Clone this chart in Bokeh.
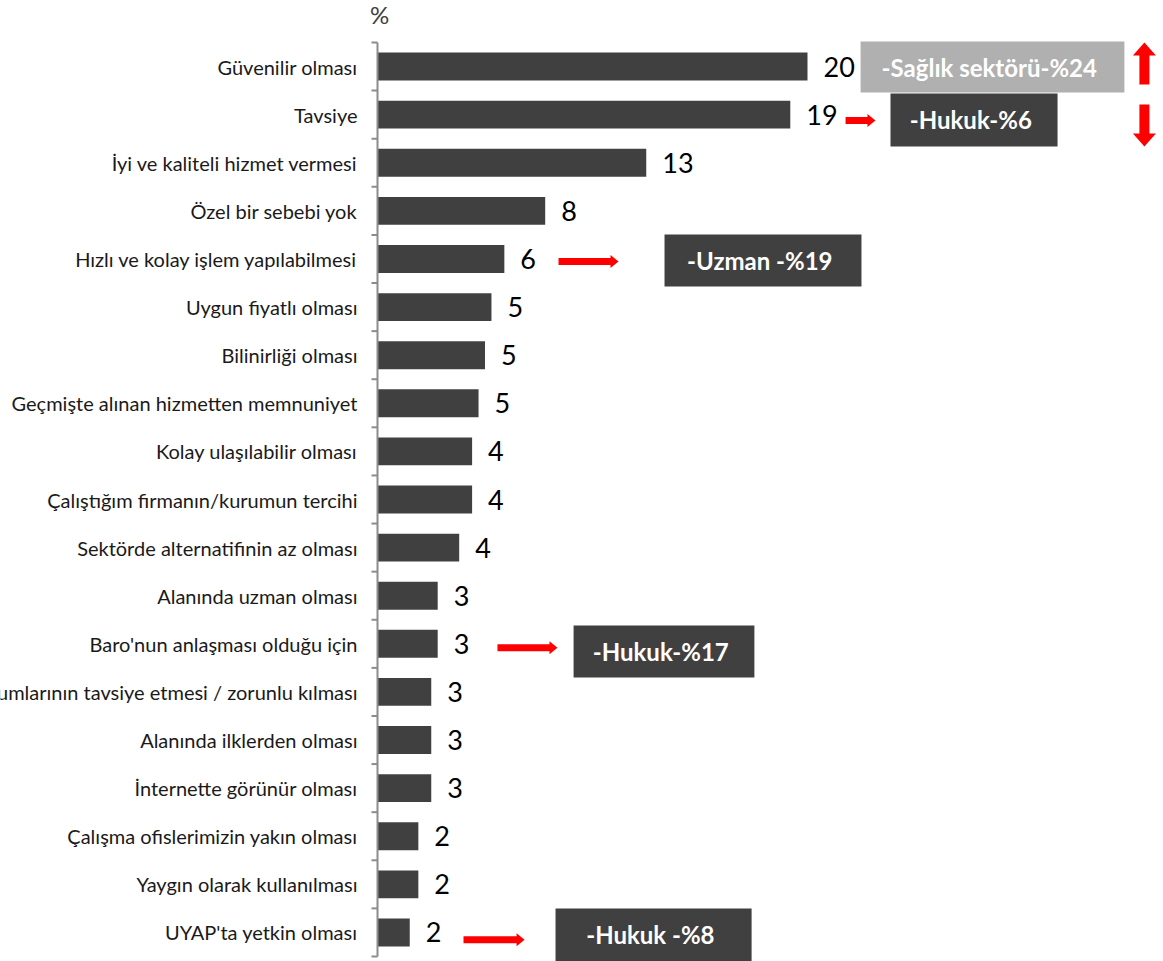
from bokeh.plotting import figure
from bokeh.models import Range1d, ColumnDataSource
from bokeh.core.properties import value
from bokeh.embed import file_html
from bokeh.resources import INLINE

# ---------------- data ----------------
categories = [
    "Güvenilir olması",
    "Tavsiye",
    "İyi ve kaliteli hizmet vermesi",
    "Özel bir sebebi yok",
    "Hızlı ve kolay işlem yapılabilmesi",
    "Uygun fiyatlı olması",
    "Bilinirliği olması",
    "Geçmişte alınan hizmetten memnuniyet",
    "Kolay ulaşılabilir olması",
    "Çalıştığım firmanın/kurumun tercihi",
    "Sektörde alternatifinin az olması",
    "Alanında uzman olması",
    "Baro'nun anlaşması olduğu için",
    "Kurumlarının tavsiye etmesi / zorunlu kılması",
    "Alanında ilklerden olması",
    "İnternette görünür olması",
    "Çalışma ofislerimizin yakın olması",
    "Yaygın olarak kullanılması",
    "UYAP'ta yetkin olması",
]
values = [20.0, 19.2, 12.5, 7.8, 5.9, 5.3, 5.0, 4.7, 4.4, 4.4, 3.8,
          2.8, 2.8, 2.5, 2.5, 2.5, 1.9, 1.9, 1.5]
value_labels = ["20", "19", "13", "8", "6", "5", "5", "5", "4", "4", "4",
                "3", "3", "3", "3", "3", "2", "2", "2"]

note_texts = ["-Sağlık sektörü-%24", "-Hukuk-%6", "-Uzman -%19", "-Hukuk-%17", "-Hukuk -%8"]
note_rows = [0, 1, 4, 12, 18]

# ---------------- layout ----------------
W, H = 1163, 961
AXIS_X = 377          # pixel position of the value axis
PX_PER_X = 21.5
AXIS_TOP, AXIS_BOTTOM = 42, 956
n = len(categories)
row_px = (AXIS_BOTTOM - AXIS_TOP) / float(n)
x_start = -AXIS_X / PX_PER_X
x_end = (W - AXIS_X) / PX_PER_X
y_top = -0.5 - AXIS_TOP / row_px
y_bottom = n - 0.5 + (H - AXIS_BOTTOM) / row_px
PXX = 1.0 / PX_PER_X
PXY = 1.0 / row_px

rows = list(range(n))

p = figure(width=W, height=H, output_backend="svg", toolbar_location=None,
           x_range=Range1d(x_start, x_end), y_range=Range1d(y_bottom, y_top),
           x_axis_location=None, y_axis_location=None,
           min_border_left=0, min_border_right=0, min_border_top=0,
           min_border_bottom=0)
p.outline_line_color = None
p.xgrid.visible = False
p.ygrid.visible = False
p.background_fill_color = "white"
p.border_fill_color = "white"

src = ColumnDataSource(dict(cat=categories, val=values, lab=value_labels, row=rows,
                            zero=[0] * n))

p.hbar(y="row", left=0, right="val", height=0.58, source=src,
       fill_color="#404040", line_color=None)

# value axis line with boundary ticks
axis_color = "#8c8c8c"
bounds = [r - 0.5 for r in range(n + 1)]
p.segment(x0=[0], y0=[-0.5], x1=[0], y1=[n - 0.5], line_color=axis_color, line_width=2)
p.segment(x0=[-6 * PXX] * len(bounds), y0=bounds, x1=[0] * len(bounds), y1=bounds,
          line_color=axis_color, line_width=2)

p.text(x="val", y="row", text="lab", source=src, x_offset=16,
       text_align="left", text_baseline="middle", text_font=value("Lato"),
       text_font_size="27px", text_color="#000000")

p.text(x="zero", y="row", text="cat", source=src, x_offset=-20,
       text_align="right", text_baseline="middle",
       text_font=value("Lato"), text_font_size="20px", text_color="#1a1a1a")

p.text(x=[0.1], y=[-0.79], text=["%"], text_align="center", text_baseline="bottom",
       text_font=value("Lato"), text_font_size="24px", text_color="#404040")

# ---------------- notes (boxes) ----------------
box_left = [22.47, 23.86, 13.35, 9.12, 8.28]
box_right = [34.74, 31.63, 22.51, 17.53, 17.40]
box_dy = [0.01, 0.11, 0.03, 0.16, 0.05]
box_h = [1.06, 1.1, 1.08, 1.08, 1.1]
box_colors = ["#b0b0b0", "#404040", "#404040", "#404040", "#404040"]
bc = [r + d for r, d in zip(note_rows, box_dy)]
nsrc = ColumnDataSource(dict(
    left=box_left, right=box_right,
    top=[c - h / 2 for c, h in zip(bc, box_h)],
    bottom=[c + h / 2 for c, h in zip(bc, box_h)],
    color=box_colors, text=note_texts,
    cx=[(a + b) / 2 - 0.15 for a, b in zip(box_left, box_right)], cy=bc))
p.quad(left="left", right="right", top="top", bottom="bottom", fill_color="color",
       line_color=None, source=nsrc)
p.text(x="cx", y="cy", text="text", source=nsrc, text_align="center",
       text_baseline="middle", text_font=value("Lato"), text_font_size="24px",
       text_font_style="bold", text_color="white")

# ---------------- arrows ----------------
def right_arrow(x0, x1, y, shaft=7, head_w=13, head_len=8):
    s = shaft * PXY / 2
    hw = head_w * PXY / 2
    hl = head_len * PXX
    xs = [x0, x1 - hl, x1 - hl, x1, x1 - hl, x1 - hl, x0]
    ys = [y - s, y - s, y - hw, y, y + hw, y + s, y + s]
    return xs, ys


def vert_arrow(x, ybase, ytip, shaft=10, head_w=23, head_len=13):
    s = shaft * PXX / 2
    hw = head_w * PXX / 2
    d = 1 if ytip > ybase else -1
    hb = ytip - d * head_len * PXY
    xs = [x - s, x - s, x - hw, x, x + hw, x + s, x + s]
    ys = [ybase, hb, hb, ytip, hb, hb, ybase]
    return xs, ys


arrow_rows = [1.12, 4.05, 12.08, 18.15]
arrow_x0 = [21.77, 8.42, 5.58, 4.0]
arrow_x1 = [23.16, 11.21, 8.37, 6.84]
axs, ays = [], []
for r, a, b in zip(arrow_rows, arrow_x0, arrow_x1):
    xs, ys = right_arrow(a, b, r)
    axs.append(xs)
    ays.append(ys)
xs, ys = vert_arrow(35.67, 0.373, -0.5)
axs.append(xs); ays.append(ys)
xs, ys = vert_arrow(35.67, 0.789, 1.662)
axs.append(xs); ays.append(ys)
p.patches(xs=axs, ys=ays, fill_color="#ff0000", line_color=None)

open("out.html", "w").write(file_html(p, INLINE))
